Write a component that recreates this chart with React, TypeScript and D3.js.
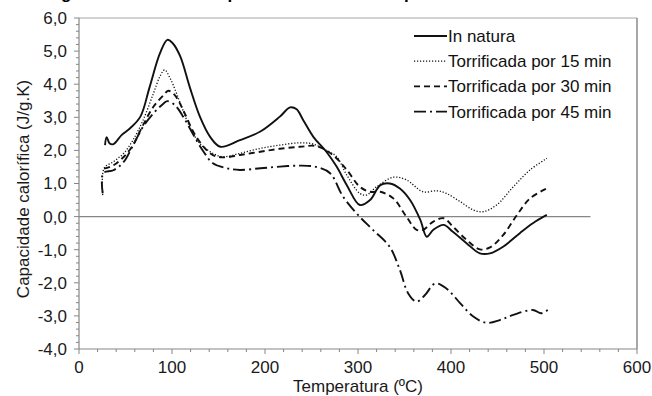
import * as React from 'react';
import * as d3 from 'd3';

// temperatura (ºC) e capacidade calorífica (J/g.K)
const inNaturaT = [28, 29.7, 33, 37, 46, 55, 66, 76, 87, 95, 101, 109, 119, 130, 141, 152, 173, 195, 216, 227, 234, 241, 252, 266, 277, 288, 302, 313, 324, 334, 345, 356, 367, 374, 381, 392, 402, 417, 431, 442, 456, 474, 488, 503];
const inNaturaCp = [2.16, 2.4, 2.21, 2.19, 2.47, 2.67, 3.02, 3.92, 4.93, 5.34, 5.23, 4.83, 3.92, 3.02, 2.41, 2.11, 2.31, 2.57, 3.02, 3.3, 3.24, 2.92, 2.41, 1.96, 1.51, 0.95, 0.35, 0.5, 0.95, 1.0, 0.85, 0.5, -0.1, -0.61, -0.4, -0.25, -0.46, -0.81, -1.11, -1.11, -0.91, -0.5, -0.2, 0.05];

const t15T = [25.5, 27, 37, 48, 58, 69, 80, 87, 92, 98, 109, 119, 130, 144, 155, 173, 195, 216, 238, 252, 266, 277, 288, 302, 309, 320, 338, 352, 370, 385, 395, 410, 424, 435, 449, 467, 485, 503];
const t15Cp = [0.65, 1.46, 1.66, 1.91, 2.31, 2.92, 3.72, 4.23, 4.43, 4.18, 3.42, 2.72, 2.21, 1.91, 1.81, 1.91, 2.06, 2.16, 2.23, 2.19, 2.0, 1.81, 1.25, 0.7, 0.65, 0.9, 1.19, 1.11, 0.75, 0.78, 0.7, 0.45, 0.2, 0.15, 0.35, 0.9, 1.41, 1.76];

const t30T = [27, 37, 48, 57, 69, 80, 91, 96, 103, 112, 123, 134, 144, 155, 173, 195, 216, 238, 255, 273, 288, 302, 313, 324, 338, 352, 363, 370, 381, 392, 402, 417, 431, 442, 456, 471, 485, 503];
const t30Cp = [1.45, 1.55, 1.8, 2.11, 2.77, 3.32, 3.67, 3.8, 3.67, 3.22, 2.56, 2.11, 1.86, 1.79, 1.86, 1.96, 2.05, 2.11, 2.13, 1.86, 1.41, 0.9, 0.75, 0.75, 0.55, 0.0, -0.4, -0.4, -0.15, -0.05, -0.3, -0.71, -0.99, -0.93, -0.56, 0.05, 0.55, 0.85];

const t45T = [25.5, 26, 37, 48, 58, 69, 80, 91, 95, 103, 112, 123, 134, 144, 159, 173, 195, 216, 238, 255, 270, 284, 300, 316, 334, 345, 354, 363, 372, 383, 395, 410, 424, 438, 453, 467, 488, 497, 505];
const t45Cp = [0.7, 1.31, 1.4, 1.65, 2.15, 2.72, 3.12, 3.42, 3.49, 3.37, 3.02, 2.47, 1.96, 1.61, 1.46, 1.41, 1.46, 1.51, 1.54, 1.5, 1.31, 0.6, 0.05, -0.4, -0.91, -1.61, -2.32, -2.57, -2.37, -2.02, -2.17, -2.62, -3.02, -3.21, -3.12, -2.97, -2.82, -2.92, -2.8];

const seriesNames = ['In natura', 'Torrificada por 15 min', 'Torrificada por 30 min', 'Torrificada por 45 min'];
const xTicks = [0, 100, 200, 300, 400, 500, 600];
const yTicks = [-4, -3, -2, -1, 0, 1, 2, 3, 4, 5, 6];

const FONT = '"Liberation Sans", Arial, sans-serif';

const App = () => {
  const ref = React.useRef<SVGSVGElement>(null);

  React.useEffect(() => {
    const svg = d3.select(ref.current);
    svg.selectAll('*').remove();

    const x = d3.scaleLinear().domain([0, 600]).range([79, 637]);
    const y = d3.scaleLinear().domain([-4, 6]).range([349, 18]);
    const axisColor = '#868686';

    // caption cut off at the top of the image, only descenders show
    svg.append('text')
      .attr('x', 46).attr('y', -1.5)
      .attr('font-family', FONT).attr('font-size', 17).attr('font-weight', 'bold')
      .text('Figura 4. Curvas de capacidade calorífica específica das amostras');

    // frame (top, right)
    svg.append('line').attr('x1', x(0)).attr('x2', x(600)).attr('y1', y(6)).attr('y2', y(6))
      .attr('stroke', '#a6a6a6').attr('stroke-width', 1);
    svg.append('line').attr('x1', x(600)).attr('x2', x(600)).attr('y1', y(6)).attr('y2', y(-4))
      .attr('stroke', '#6e6e6e').attr('stroke-width', 1.2);

    // zero line
    svg.append('line').attr('x1', x(0)).attr('x2', x(550)).attr('y1', y(0)).attr('y2', y(0))
      .attr('stroke', axisColor).attr('stroke-width', 1.2);

    // y axis
    const gy = svg.append('g');
    gy.append('line').attr('x1', x(0)).attr('x2', x(0)).attr('y1', y(6)).attr('y2', y(-4))
      .attr('stroke', axisColor).attr('stroke-width', 1.2);
    d3.range(-4, 6.001, 0.2).forEach(v => {
      const major = Math.abs(v - Math.round(v)) < 1e-6;
      gy.append('line').attr('x1', x(0) - (major ? 5 : 3)).attr('x2', x(0))
        .attr('y1', y(v)).attr('y2', y(v)).attr('stroke', axisColor).attr('stroke-width', 1);
    });
    yTicks.forEach(v => {
      gy.append('text').attr('x', 67).attr('y', y(v)).attr('dy', '0.35em')
        .attr('text-anchor', 'end').attr('font-family', FONT).attr('font-size', 17).attr('fill', '#1a1a1a')
        .text(d3.format('.1f')(v).replace('.', ',').replace('−', '-'));
    });

    // x axis
    const gx = svg.append('g');
    gx.append('line').attr('x1', x(0)).attr('x2', x(600)).attr('y1', y(-4)).attr('y2', y(-4))
      .attr('stroke', axisColor).attr('stroke-width', 1.2);
    d3.range(0, 601, 20).forEach(t => {
      const major = t % 100 === 0;
      gx.append('line').attr('x1', x(t)).attr('x2', x(t))
        .attr('y1', y(-4)).attr('y2', y(-4) + (major ? 5 : 3)).attr('stroke', axisColor).attr('stroke-width', 1);
    });
    xTicks.forEach(t => {
      gx.append('text').attr('x', x(t)).attr('y', 373)
        .attr('text-anchor', 'middle').attr('font-family', FONT).attr('font-size', 17).attr('fill', '#1a1a1a')
        .text(t);
    });

    // axis titles
    svg.append('text').attr('x', (x(0) + x(600)) / 2).attr('y', 392)
      .attr('text-anchor', 'middle').attr('font-family', FONT).attr('font-size', 17).attr('fill', '#1a1a1a')
      .text('Temperatura (ºC)');
    svg.append('text').attr('transform', `translate(29,189) rotate(-90)`)
      .attr('text-anchor', 'middle').attr('font-family', FONT).attr('font-size', 17).attr('fill', '#1a1a1a')
      .text('Capacidade calorífica (J/g.K)');

    const styles = [
      {dash: null, width: 1.9},
      {dash: '1.2 1.8', width: 1.3},
      {dash: '6 4', width: 1.9},
      {dash: '12 4 2 4', width: 1.9},
    ];
    const data = [
      d3.zip(inNaturaT, inNaturaCp),
      d3.zip(t15T, t15Cp),
      d3.zip(t30T, t30Cp),
      d3.zip(t45T, t45Cp),
    ];

    const line = d3.line<number[]>()
      .x(d => x(d[0]))
      .y(d => y(d[1]))
      .curve(d3.curveCatmullRom.alpha(0.5));

    data.forEach((pts, i) => {
      svg.append('path')
        .datum(pts)
        .attr('fill', 'none')
        .attr('stroke', '#111')
        .attr('stroke-width', styles[i].width)
        .attr('stroke-dasharray', styles[i].dash)
        .attr('d', line);
    });

    // legend
    const lg = svg.append('g');
    seriesNames.forEach((name, i) => {
      const ly = 36 + i * 25.2;
      lg.append('line').attr('x1', 414).attr('x2', 447).attr('y1', ly).attr('y2', ly)
        .attr('stroke', '#111').attr('stroke-width', styles[i].width)
        .attr('stroke-dasharray', styles[i].dash);
      lg.append('text').attr('x', 448).attr('y', ly).attr('dy', '0.35em')
        .attr('font-family', FONT).attr('font-size', 17).attr('fill', '#111')
        .text(name);
    });
  }, []);

  return (
    <svg ref={ref} width={652} height={396}
      style={{position: 'absolute', left: 0, top: 0, background: '#fff'}} />
  );
};

export default App;
